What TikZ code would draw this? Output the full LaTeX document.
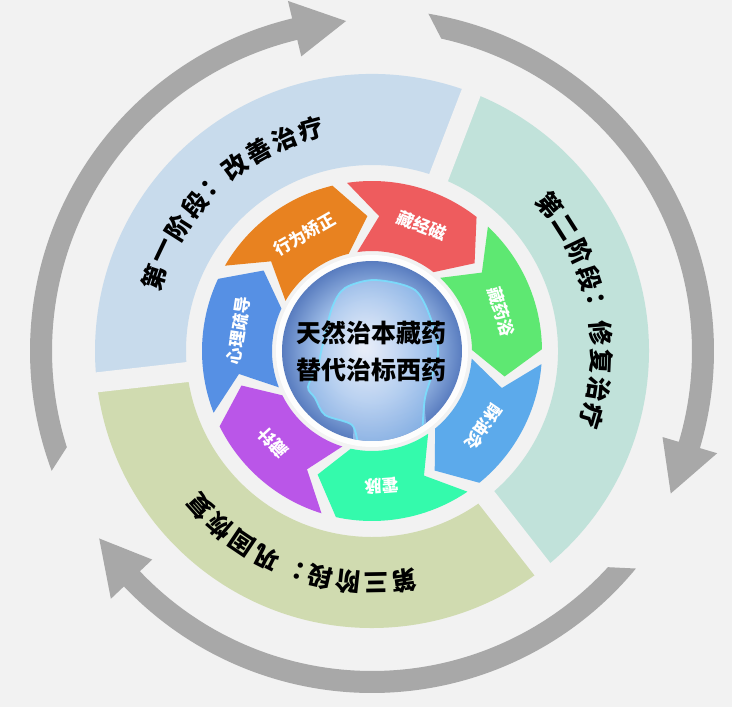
\documentclass[tikz,border=0pt]{standalone}
\usepackage{fontspec}
\setmainfont{Noto Sans CJK SC}
\usepackage{tikz}
\usetikzlibrary{calc}

\definecolor{bggray}{RGB}{242, 242, 242}
\definecolor{stageblue}{RGB}{200, 219, 236}
\definecolor{stageteal}{RGB}{193, 226, 218}
\definecolor{stagegreen}{RGB}{208, 219, 176}
\definecolor{arrowgray}{RGB}{168, 168, 168}
\definecolor{segblue}{RGB}{86, 144, 228}
\definecolor{segorange}{RGB}{232, 130, 32}
\definecolor{segred}{RGB}{238, 92, 94}
\definecolor{seggreen}{RGB}{94, 232, 114}
\definecolor{segsky}{RGB}{92, 170, 235}
\definecolor{segmint}{RGB}{52, 250, 172}
\definecolor{segpurple}{RGB}{186, 86, 232}
\definecolor{headnavy}{RGB}{24, 40, 98}
\definecolor{headblue}{RGB}{52, 90, 170}
\definecolor{headpale}{RGB}{170, 200, 238}
\definecolor{headsky}{RGB}{70, 150, 225}
\definecolor{headlight}{RGB}{236, 240, 250}
\definecolor{headcyan}{RGB}{120, 225, 255}

\pgfdeclareradialshading{headglow}{\pgfpoint{0bp}{0bp}}{color(0bp)=(headlight); color(14bp)=(headpale); color(30bp)=(headblue); color(44bp)=(headnavy); color(50bp)=(headnavy)}
\pgfdeclareradialshading{brainglow}{\pgfpoint{-4bp}{6bp}}{color(0bp)=(headlight); color(20bp)=(headpale); color(50bp)=(headsky)}

\tikzset{
  stagechar/.style={font=\fontsize{25}{25}\selectfont\bfseries, text=black, inner sep=0pt},
  segtext/.style={font=\fontsize{17}{17}\selectfont\bfseries, text=white, inner sep=0pt},
  centretext/.style={font=\fontsize{25}{25}\selectfont\bfseries, text=black, inner sep=0pt}
}

\begin{document}
\begin{tikzpicture}[x=1pt, y=1pt]
  % canvas
  \fill[bggray] (-372,-356) rectangle (360,351);
  \useasboundingbox (-372,-356) rectangle (360,351);

  % outer cycle arrows
  \foreach \a in {200.5, 80.5, -39.5} {
    \pgfmathsetmacro{\b}{\a-97}
    \pgfmathsetmacro{\c}{\a-106}
    \pgfmathsetmacro{\d}{\a-3}
    \fill[arrowgray] (\a:342) arc[start angle=\a, end angle=\b, radius=342] -- (\b:360) -- (\c:331) -- (\b:303) -- (\b:320) arc[start angle=\b, end angle=\d, radius=320] -- cycle;
  }

  % stage bands
  \fill[stageblue] (69:277) arc[start angle=69, end angle=186.5, radius=277] -- (186.5:186) arc[start angle=186.5, end angle=69, radius=186] -- cycle;
  \fill[stageteal] (-52:277) arc[start angle=-52, end angle=69, radius=277] -- (69:186) arc[start angle=69, end angle=-52, radius=186] -- cycle;
  \fill[stagegreen] (186.5:277) arc[start angle=186.5, end angle=308, radius=277] -- (308:186) arc[start angle=308, end angle=186.5, radius=186] -- cycle;
  \foreach \g in {69, 186.5, -52}
    \draw[bggray, line width=20] (\g:175) -- (\g:290);

  % stage labels
  \foreach \ch [count=\i from 0] in {第,一,阶,段,：,改,善,治,疗} {
    \pgfmathsetmacro{\A}{161.5-7*\i}
    \pgfmathsetmacro{\R}{\A-90}
    \node[stagechar, rotate=\R] (stA\i) at (\A:230) {\ch};
  }
  \foreach \ch [count=\i from 0] in {第,二,阶,段,：,修,复,治,疗} {
    \pgfmathsetmacro{\A}{39.5-7*\i}
    \pgfmathsetmacro{\R}{\A-90}
    \node[stagechar, rotate=\R] (stB\i) at (\A:230) {\ch};
  }
  \foreach \ch [count=\i from 0] in {第,三,阶,段,：,巩,固,恢,复} {
    \pgfmathsetmacro{\A}{-82-7*\i}
    \pgfmathsetmacro{\R}{\A-90}
    \node[stagechar, rotate=\R] (stC\i) at (\A:232) {\ch};
  }

  % therapy ring
  \foreach \col/\txt [count=\k from 0] in {segblue/心理疏导, segorange/行为矫正, segred/藏经磁, seggreen/藏药浴, segsky/酥油灸, segmint/霍脉, segpurple/藏针} {
    \pgfmathsetmacro{\T}{201.3-51.43*\k}
    \pgfmathsetmacro{\L}{\T-46.4}
    \pgfmathsetmacro{\tip}{\L-11.5}
    \pgfmathsetmacro{\notch}{\T-11.5}
    \fill[\col] (\T:170) arc[start angle=\T, end angle=\L, radius=170] -- (\tip:135) -- (\L:100) arc[start angle=\L, end angle=\T, radius=100] -- (\notch:135) -- cycle;
    \pgfmathsetmacro{\M}{\T-30}
    \pgfmathsetmacro{\R}{\M-90}
    \node[segtext, rotate=\R] (seg\k) at (\M:135) {\txt};
  }

  % centre
  \fill[white!85!bggray] (0,0) circle[radius=96];
  \shade[shading=headglow] (0,0) circle[radius=90];
  \begin{scope}
    \clip (0,0) circle[radius=90];
    \shade[shading=brainglow, opacity=0.85] plot[smooth cycle] coordinates {(-14,-95) (-20,-74) (-47,-64) (-57,-47) (-64,-36) (-54,-14) (-50,3) (-40,43) (-27,63) (3,71) (43,61) (60,29) (66,-4) (53,-47) (50,-95)};
    \draw[headcyan, line width=1.8, opacity=0.85] plot[smooth] coordinates {(-14,-95) (-20,-74) (-47,-64) (-57,-47) (-64,-36) (-54,-14) (-50,3) (-40,43) (-27,63) (3,71) (43,61) (60,29) (66,-4) (53,-47) (50,-95)};
  \end{scope}
  \node[centretext] (ctop) at (0,18) {天然治本藏药};
  \node[centretext] (cbot) at (0,-19) {替代治标西药};
\end{tikzpicture}
\end{document}
